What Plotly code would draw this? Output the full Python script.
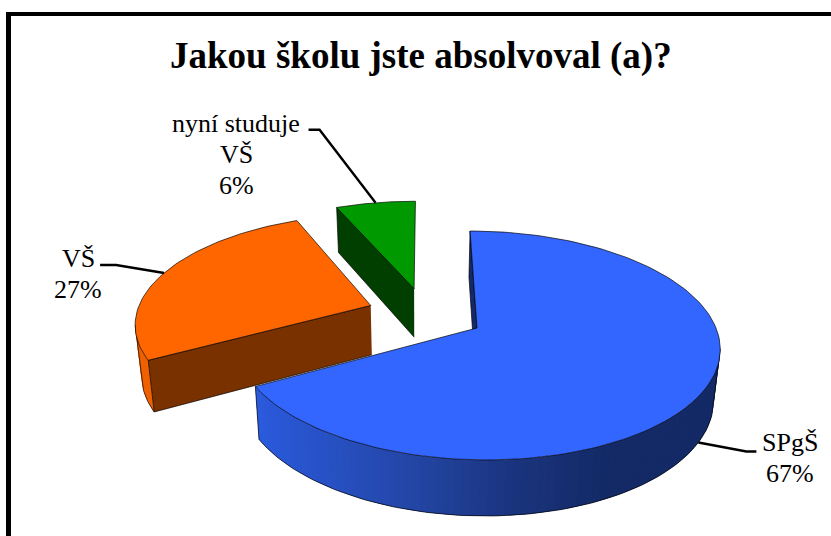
import numpy as np
import plotly.graph_objects as go

# ---- data ----
category_lines = [["SPgŠ"], ["VŠ"], ["nyní studuje", "VŠ"]]
values = [66.95, 26.6, 6.45]
value_labels = ["67%", "27%", "6%"]
title_text = "Jakou školu jste absolvoval (a)?"

# ---- projection of the pie plane (pixels) ----
W, H = 831, 536
APEX_X, APEX_Y = 477.0, 328.0
RX, RY, SHEAR, PERSP = 239.0, 111.8, -8.0, 0.153
PULL = 0.25
D0, D1, X_VANISH, X_SCALE = 36.0, 0.0435, 420.0, 0.978

TOP = ["#3366ff", "#ff6600", "#009900"]
FLAT_WALL = ["#14296a", "#7a3100", "#003f00"]
ORANGE_RIM_WALL = "#ee6000"
GRAD_X = [260, 273, 407, 507, 607, 720]
GRAD_C = [(44, 92, 222), (42, 88, 216), (36, 71, 168), (27, 53, 128), (20, 42, 102), (20, 42, 102)]


def project(u, v, low=False):
    w = 1 + PERSP * v
    x = APEX_X + (RX * u + SHEAR * v) / w
    y = APEX_Y - RY * v / w
    if low:
        x = X_VANISH + (x - X_VANISH) * X_SCALE
        y = y + D0 + D1 * y
    return x, y


shares = np.array(values) / sum(values) * 2 * np.pi
ends = np.cumsum(shares)
starts = ends - shares
mids = (starts + ends) / 2
off_u = PULL * (np.sin(mids) - np.sin(mids[0]))
off_v = PULL * (np.cos(mids) - np.cos(mids[0]))


def rim(i, a, low=False):
    return project(off_u[i] + np.sin(a), off_v[i] + np.cos(a), low)


def apex(i, low=False):
    return project(off_u[i], off_v[i], low)


def grad(x):
    return "rgb(%d,%d,%d)" % tuple(np.interp(x, GRAD_X, [c[k] for c in GRAD_C]) for k in range(3))


def extreme_angle(i, sign):
    angles = np.linspace(starts[i], ends[i], 720)
    return angles[int(np.argmax([sign * rim(i, a)[0] for a in angles]))]


fig = go.Figure()


def poly(pts, fill=None, line="rgba(0,0,0,0.75)", width=0.9):
    xs, ys = zip(*pts)
    fig.add_trace(go.Scatter(
        x=list(xs), y=list(ys), mode="lines", hoverinfo="skip", showlegend=False,
        fill="toself" if fill else "none", fillcolor=fill,
        line=dict(color=line, width=width)))


def arc(i, a0, a1, low=False, n=60):
    return [rim(i, a, low) for a in np.linspace(a0, a1, n)]


def rim_wall(i, a0, a1, colour, strips):
    """Wall between the upper and lower rim; each strip reaches under the next."""
    edges = np.linspace(a0, a1, strips + 1)
    step = edges[1] - edges[0]
    for e in edges[:-1]:
        e2 = e + 2 * step if step > 0 else e + 2 * step
        e2 = max(min(e2, max(a0, a1)), min(a0, a1))
        mid = rim(i, e + step / 2, True)[0]
        c = colour(mid)
        poly(arc(i, e, e2, False, 4) + arc(i, e2, e, True, 4), c, c, 0)


# green slice
i = 2
poly([apex(i), rim(i, starts[i]), rim(i, starts[i], True), apex(i, True)], FLAT_WALL[i])
poly([apex(i)] + arc(i, starts[i], ends[i]) + [apex(i)], TOP[i])

# orange slice
i = 1
sil = extreme_angle(i, -1)
rim_wall(i, sil, starts[i], lambda x: ORANGE_RIM_WALL, 12)
poly([rim(i, sil)] + arc(i, sil, starts[i], True, 40), None)
poly([apex(i), rim(i, starts[i]), rim(i, starts[i], True), apex(i, True)], FLAT_WALL[i])
poly([apex(i)] + arc(i, starts[i], ends[i]) + [apex(i)], TOP[i])

# blue slice
i = 0
poly([apex(i), rim(i, 0), rim(i, 0, True), apex(i, True)], FLAT_WALL[i])
sil = extreme_angle(i, 1)
rim_wall(i, sil, ends[i], grad, 80)
poly([rim(i, sil)] + arc(i, sil, ends[i], True, 120) + [rim(i, ends[i])], None)
poly([apex(i)] + arc(i, starts[i], ends[i], False, 160) + [apex(i)], TOP[i])

# leader lines, anchored on each slice's middle angle
anchors = [rim(0, mids[0], True), rim(1, mids[1]), rim(2, mids[2])]
elbows = [[(48, 9), (58, 9)], [(-48, -8), (-64, -8)], [(-56, -73), (-67, -73)]]
for (ax, ay), el in zip(anchors, elbows):
    pts = [(ax, ay)] + [(ax + dx, ay + dy) for dx, dy in el]
    xs, ys = zip(*pts)
    fig.add_trace(go.Scatter(x=list(xs), y=list(ys), mode="lines", hoverinfo="skip",
                             showlegend=False, line=dict(color="black", width=2.4)))

LABEL_SIZE = 26
LINE_GAP = 31
label_centre_x = [790, 78, 236]
label_first_y = [442, 258, 123]
anns = []
for cx, y0, lines, val in zip(label_centre_x, label_first_y, category_lines, value_labels):
    for n, text in enumerate(lines + [val]):
        anns.append(dict(x=cx, y=y0 + n * LINE_GAP, xref="x", yref="y", text=text, showarrow=False,
                         xanchor="center", yanchor="middle",
                         font=dict(family="Liberation Serif", size=LABEL_SIZE, color="black")))
anns.append(dict(x=420.5, y=56, xref="x", yref="y", text=f"<b>{title_text}</b>", showarrow=False,
                 xanchor="center", yanchor="middle",
                 font=dict(family="Liberation Serif", size=37, color="black")))

frame = [dict(type="rect", x0=6, x1=11, y0=12, y1=536),
         dict(type="rect", x0=6, x1=831, y0=12, y1=16)]

fig.update_layout(
    width=W, height=H, margin=dict(l=0, r=0, t=0, b=0), autosize=False,
    paper_bgcolor="white", plot_bgcolor="white", showlegend=False,
    xaxis=dict(range=[0, W], visible=False, fixedrange=True),
    yaxis=dict(range=[H, 0], visible=False, fixedrange=True),
    annotations=anns,
    shapes=[dict(s, xref="x", yref="y", fillcolor="black", line=dict(width=0), layer="below") for s in frame],
)
fig.write_html("out.html", config=dict(displayModeBar=False),
               post_script="document.body.style.margin='0';")
